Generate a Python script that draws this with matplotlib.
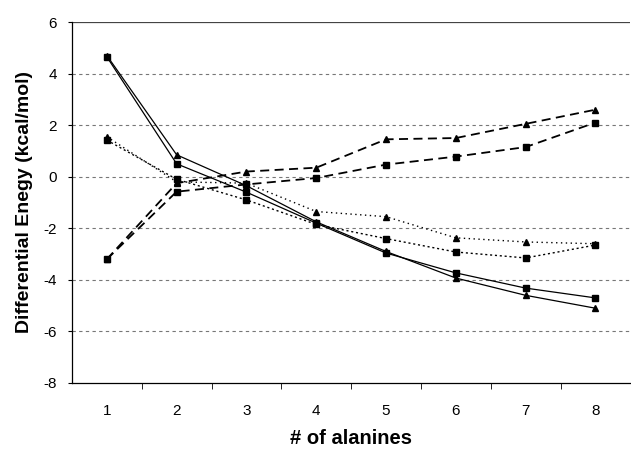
import matplotlib.pyplot as plt

plt.rcParams['font.family'] = ['Liberation Sans', 'DejaVu Sans']
plt.rcParams['axes.unicode_minus'] = False

alanines = [1, 2, 3, 4, 5, 6, 7, 8]

solid_tri = [4.7, 0.85, -0.35, -1.75, -2.9, -3.93, -4.6, -5.1]
solid_sq = [4.65, 0.5, -0.6, -1.8, -2.96, -3.73, -4.32, -4.7]
dashed_tri = [-3.2, -0.25, 0.2, 0.35, 1.45, 1.5, 2.05, 2.6]
dashed_sq = [-3.2, -0.58, -0.3, -0.05, 0.47, 0.78, 1.15, 2.1]
dotted_tri = [1.55, -0.2, -0.25, -1.35, -1.55, -2.37, -2.53, -2.6]
dotted_sq = [1.42, -0.1, -0.9, -1.85, -2.4, -2.92, -3.15, -2.65]

fig = plt.figure(figsize=(6.31, 4.49), dpi=100)
ax = fig.add_axes([0.114, 0.147, 0.885, 0.804])

# gridlines
for g in [4, 2, 0, -2, -4, -6]:
    ax.axhline(g, color='#777777', lw=0.8, ls=(0, (3, 3)), zorder=0)
ax.axhline(6, color='#444444', lw=0.9, zorder=0)

ax.plot(alanines, solid_tri, color='black', lw=0.9, marker='^', ms=5)
ax.plot(alanines, solid_sq, color='black', lw=0.9, marker='s', ms=5)
ax.plot(alanines, dashed_tri, color='black', lw=1.3, ls=(0, (5, 3)), marker='^', ms=5)
ax.plot(alanines, dashed_sq, color='black', lw=1.3, ls=(0, (5, 3)), marker='s', ms=5)
ax.plot(alanines, dotted_tri, color='black', lw=1.0, ls=(0, (1, 2.5)), marker='^', ms=5)
ax.plot(alanines, dotted_sq, color='black', lw=1.0, ls=(0, (1.5, 2)), marker='s', ms=5)

ax.set_xlim(0.5, 8.5)
ax.set_ylim(-8, 6)
ax.set_xticks(alanines)
ax.set_xticks([x + 0.5 for x in alanines[:-1]], minor=True)
ax.set_yticks([-8, -6, -4, -2, 0, 2, 4, 6])
ax.tick_params(axis='x', which='major', length=0, labelsize=11, pad=15)
ax.tick_params(axis='x', which='minor', length=4, direction='out')
ax.tick_params(axis='y', length=3, labelsize=11, pad=8)

for s in ['top', 'right']:
    ax.spines[s].set_visible(False)
ax.spines['left'].set_linewidth(0.9)
ax.spines['bottom'].set_linewidth(0.9)

ax.set_xlabel('# of alanines', fontsize=14.5, fontweight='bold', labelpad=8)
ax.set_ylabel('Differential Enegy (kcal/mol)', fontsize=14, fontweight='bold', labelpad=7)

fig.savefig('out.png', dpi=100)
